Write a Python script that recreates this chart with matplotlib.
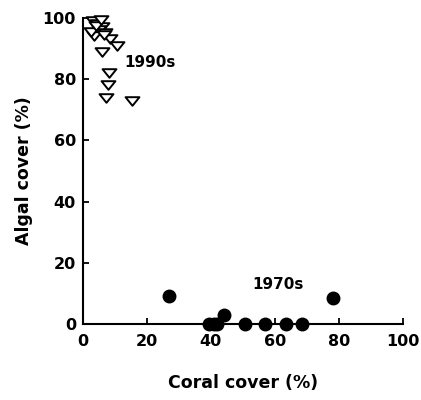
import matplotlib.pyplot as plt
from matplotlib.path import Path

# Coral vs algal cover
coral_1970s = [27, 39.5, 41, 42, 44, 50.5, 57, 63.5, 68.5, 78]
algal_1970s = [9, 0, 0, 0, 3, 0, 0, 0, 0, 8.5]

coral_1990s = [3, 4.5, 6, 5, 7, 3.5, 2.5, 8.5, 4, 5.5, 6.5, 5.9, 10.6,
               8.1, 7.8, 7.2, 15.3]
algal_1990s = [99, 98, 97, 96, 95, 94, 95.5, 93, 97.5, 99.5, 94.5, 89, 91,
               82, 78, 74, 73]

x_ticks = [0, 20, 40, 60, 80, 100]
y_ticks = [0, 20, 40, 60, 80, 100]

plt.rcParams['font.family'] = ['DejaVu Sans']
plt.rcParams['font.weight'] = 'bold'

# flat, downward pointing triangle like the printed figure
tri = Path([(-1, 0.62), (1, 0.62), (0, -0.62), (-1, 0.62)], closed=True)

fig = plt.figure(figsize=(4.21, 4.00), dpi=100)
ax = fig.add_axes([0.197, 0.19, 0.76, 0.765])

ax.plot(coral_1970s, algal_1970s, 'o', color='black', markersize=9,
        clip_on=False)
ax.plot(coral_1990s, algal_1990s, linestyle='none', marker=tri,
        markerfacecolor='white', markeredgecolor='black',
        markeredgewidth=1.4, markersize=10, clip_on=False)

ax.text(21, 85.5, '1990s', ha='center', va='center', fontsize=11,
        fontweight='bold')
ax.text(61, 13, '1970s', ha='center', va='center', fontsize=11,
        fontweight='bold')

ax.set_xlim(0, 100)
ax.set_ylim(0, 100)
ax.set_xticks(x_ticks)
ax.set_yticks(y_ticks)
ax.tick_params(direction='in', length=4.5, width=1.3, labelsize=11.5)
ax.tick_params(axis='x', pad=7)
ax.tick_params(axis='y', pad=5)
for lab in ax.get_xticklabels() + ax.get_yticklabels():
    lab.set_fontweight('bold')

for side in ['top', 'right']:
    ax.spines[side].set_visible(False)
for side in ['left', 'bottom']:
    ax.spines[side].set_linewidth(1.5)

ax.set_xlabel('Coral cover (%)', fontsize=12.5, fontweight='bold',
              labelpad=18)
ax.set_ylabel('Algal cover (%)', fontsize=12.5, fontweight='bold',
              labelpad=7)

fig.savefig('out.png', dpi=100)
